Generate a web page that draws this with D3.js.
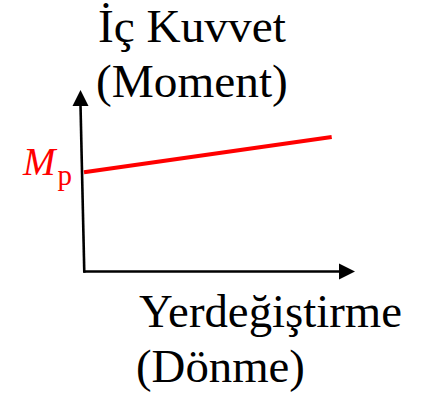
<!DOCTYPE html>
<html>
<head>
<meta charset="utf-8">
<script src="https://cdn.jsdelivr.net/npm/d3@7"></script>
<style>
  html, body { margin: 0; padding: 0; background: #fff; }
  svg { display: block; }
</style>
</head>
<body>
<svg id="chart" width="426" height="399"></svg>
<script>
// ---- data ----
const yTitleLines = ["İç Kuvvet", "(Moment)"];
const xTitleLines = ["Yerdeğiştirme", "(Dönme)"];
const curveLabel = "M";
const curveLabelSub = "p";
const displacement = [0, 9.14];     // x values of the line
const force = [5.47, 7.41];         // y values of the line (M_p at x = 0)
const xDomain = [0, 10];
const yDomain = [0, 10];

// ---- layout ----
const svg = d3.select("#chart");
const x = d3.scaleLinear().domain(xDomain).range([84, 355]);
const y = d3.scaleLinear().domain(yDomain).range([271.5, 90]);
const FONT = '"Liberation Serif"';

// axes
const axisW = 2.6, head = 16, headHalf = 8;
// y axis (slightly leaning, as in the reference)
svg.append("line")
  .attr("x1", x(0) + 0.3).attr("y1", y(0) + axisW / 2)
  .attr("x2", x(0) - 3.5).attr("y2", y(yDomain[1]) + head - 1)
  .attr("stroke", "#000").attr("stroke-width", axisW);
svg.append("path")
  .attr("d", d3.line()([
    [x(0) - 3.5, y(yDomain[1])],
    [x(0) - 3.5 - headHalf, y(yDomain[1]) + head],
    [x(0) - 3.5 + headHalf, y(yDomain[1]) + head]
  ]) + "Z")
  .attr("fill", "#000");
// x axis
svg.append("line")
  .attr("x1", x(0) - 0.5).attr("y1", y(0))
  .attr("x2", x(xDomain[1]) - head + 1).attr("y2", y(0))
  .attr("stroke", "#000").attr("stroke-width", axisW);
svg.append("path")
  .attr("d", d3.line()([
    [x(xDomain[1]), y(0)],
    [x(xDomain[1]) - head, y(0) - headHalf],
    [x(xDomain[1]) - head, y(0) + headHalf]
  ]) + "Z")
  .attr("fill", "#000");

// red line
const pts = displacement.map((d, i) => [d, force[i]]);
svg.append("path")
  .datum(pts)
  .attr("d", d3.line().x(d => x(d[0])).y(d => y(d[1])))
  .attr("stroke", "#ff0000").attr("stroke-width", 4).attr("fill", "none");

// M_p label
const lab = svg.append("text")
  .attr("x", 23).attr("y", y(force[0]) + 3)
  .style("font-family", FONT)
  .attr("fill", "#ff0000");
lab.append("tspan").attr("font-size", 39).attr("font-style", "italic").text(curveLabel);
lab.append("tspan").attr("font-size", 29).attr("dx", 2).attr("dy", 10).text(curveLabelSub);

// titles
svg.append("g").selectAll("text").data(yTitleLines).join("text")
  .attr("x", (d, i) => i === 0 ? 98 : 96)
  .attr("y", (d, i) => 42 + i * 55)
  .style("font-family", FONT)
  .attr("font-size", 47.3).attr("fill", "#000")
  .text(d => d);
svg.append("g").selectAll("text").data(xTitleLines).join("text")
  .attr("x", (d, i) => i === 0 ? 139 : 136)
  .attr("y", (d, i) => 327 + i * 55)
  .style("font-family", FONT)
  .attr("font-size", 46.8).attr("fill", "#000")
  .text(d => d);
</script>
</body>
</html>
